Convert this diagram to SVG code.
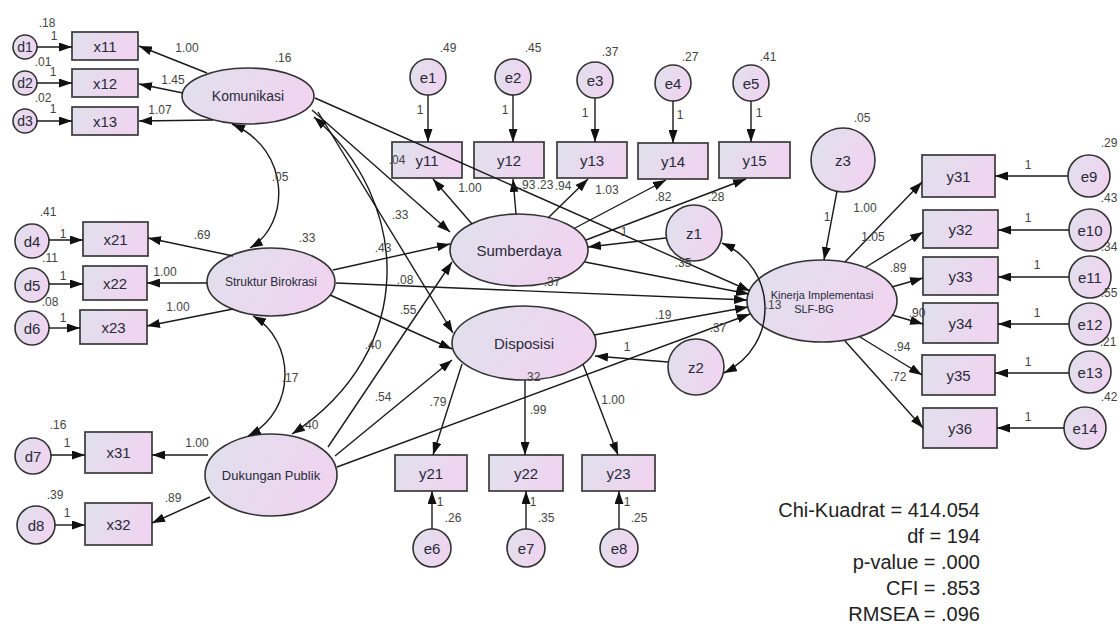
<svg xmlns="http://www.w3.org/2000/svg" width="1120" height="625" viewBox="0 0 1120 625">
  <defs>
    <linearGradient id="fillGrad" x1="0" y1="0" x2="1" y2="0.3">
      <stop offset="0" stop-color="#dfe1ec"/>
      <stop offset="1" stop-color="#f0d4f0"/>
    </linearGradient>
    <marker id="ah" markerUnits="userSpaceOnUse" markerWidth="13" markerHeight="9" refX="13" refY="4.5" orient="auto-start-reverse">
      <path d="M0,0 L13,4.5 L0,9 z" fill="#111"/>
    </marker>
    <style>
      .box { fill: url(#fillGrad); stroke: #3a3a3a; stroke-width: 1.7; }
      .lat { fill: url(#fillGrad); stroke: #333; stroke-width: 1.6; }
      .ln { fill: none; stroke: #1a1a1a; stroke-width: 1.4; marker-end: url(#ah); }
      .cov { fill: none; stroke: #1a1a1a; stroke-width: 1.4; marker-start: url(#ah); marker-end: url(#ah); }
      .nt { font-family: "Liberation Sans", Arial, sans-serif; font-size: 15px; fill: #2a2a3a; text-anchor: middle; dominant-baseline: central; }
      .lv { font-family: "Liberation Sans", Arial, sans-serif; font-size: 14px; fill: #2a2a3a; text-anchor: middle; dominant-baseline: central; }
      .lb { font-family: "Liberation Sans", Arial, sans-serif; font-size: 12px; fill: #444; text-anchor: middle; }
      .st { font-family: "Liberation Sans", Arial, sans-serif; font-size: 20px; fill: #222; text-anchor: end; }
    </style>
  </defs>
  <rect width="1120" height="625" fill="#ffffff"/>

  <!-- exogenous latent variables -->
  <g id="komunikasi"><ellipse class="lat" cx="248" cy="96" rx="66" ry="28"/><text class="lv" x="248" y="96">Komunikasi</text></g>
  <g id="struktur-birokrasi"><ellipse class="lat" cx="271" cy="282" rx="64" ry="34"/><text class="lv" x="271" y="282" style="font-size:12px">Struktur Birokrasi</text></g>
  <g id="dukungan-publik"><ellipse class="lat" cx="271" cy="475" rx="66" ry="41"/><text class="lv" x="271" y="475" style="font-size:13px">Dukungan Publik</text></g>

  <!-- endogenous latent variables -->
  <g id="sumberdaya"><ellipse class="lat" cx="519" cy="250" rx="69" ry="36"/><text class="lv" x="519" y="250" style="font-size:15px">Sumberdaya</text></g>
  <g id="disposisi"><ellipse class="lat" cx="524" cy="343" rx="72" ry="37"/><text class="lv" x="524" y="343" style="font-size:15px">Disposisi</text></g>
  <g id="kinerja"><ellipse class="lat" cx="822" cy="301" rx="75" ry="41"/><text class="lv" x="822" y="295" style="font-size:11px">Kinerja Implementasi</text><text class="lv" x="814" y="309" style="font-size:11px">SLF-BG</text></g>

  <!-- indicators of exogenous variables -->
  <g id="x11"><rect class="box" x="72" y="32" width="66" height="28"/><text class="nt" x="105" y="46">x11</text></g>
  <g id="x12"><rect class="box" x="72" y="69" width="66" height="28"/><text class="nt" x="105" y="83">x12</text></g>
  <g id="x13"><rect class="box" x="72" y="107" width="66" height="28"/><text class="nt" x="105" y="121">x13</text></g>
  <g id="x21"><rect class="box" x="83" y="222" width="65" height="34"/><text class="nt" x="115.5" y="239">x21</text></g>
  <g id="x22"><rect class="box" x="83" y="266" width="64" height="34"/><text class="nt" x="115" y="283">x22</text></g>
  <g id="x23"><rect class="box" x="80" y="310" width="67" height="34"/><text class="nt" x="113.5" y="327">x23</text></g>
  <g id="x31"><rect class="box" x="85" y="432" width="67" height="41"/><text class="nt" x="118.5" y="452.5">x31</text></g>
  <g id="x32"><rect class="box" x="85" y="503" width="67" height="42"/><text class="nt" x="118.5" y="524">x32</text></g>

  <!-- indicators of endogenous variables -->
  <g id="y11"><rect class="box" x="392" y="142" width="70" height="36"/><text class="nt" x="427" y="160">y11</text></g>
  <g id="y12"><rect class="box" x="474" y="142" width="70" height="36"/><text class="nt" x="509" y="160">y12</text></g>
  <g id="y13"><rect class="box" x="557" y="142" width="70" height="36"/><text class="nt" x="592" y="160">y13</text></g>
  <g id="y14"><rect class="box" x="638" y="143" width="70" height="36"/><text class="nt" x="673" y="161">y14</text></g>
  <g id="y15"><rect class="box" x="719" y="142" width="71" height="36"/><text class="nt" x="754.5" y="160">y15</text></g>
  <g id="y21"><rect class="box" x="395" y="455" width="72" height="36"/><text class="nt" x="431" y="473">y21</text></g>
  <g id="y22"><rect class="box" x="489" y="455" width="74" height="36"/><text class="nt" x="526" y="473">y22</text></g>
  <g id="y23"><rect class="box" x="582" y="455" width="73" height="36"/><text class="nt" x="618.5" y="473">y23</text></g>
  <g id="y31"><rect class="box" x="922" y="155" width="73" height="42"/><text class="nt" x="958.5" y="176">y31</text></g>
  <g id="y32"><rect class="box" x="923" y="210" width="75" height="38"/><text class="nt" x="960.5" y="229">y32</text></g>
  <g id="y33"><rect class="box" x="923" y="257" width="75" height="38"/><text class="nt" x="960.5" y="276">y33</text></g>
  <g id="y34"><rect class="box" x="923" y="303" width="75" height="40"/><text class="nt" x="960.5" y="323">y34</text></g>
  <g id="y35"><rect class="box" x="922" y="355" width="73" height="40"/><text class="nt" x="958.5" y="375">y35</text></g>
  <g id="y36"><rect class="box" x="923" y="408" width="74" height="40"/><text class="nt" x="960" y="428">y36</text></g>

  <!-- error terms -->
  <g id="d1"><circle class="lat" cx="25" cy="47" r="12"/><text class="nt" x="25" y="47" style="font-size:14px">d1</text></g>
  <g id="d2"><circle class="lat" cx="25" cy="83" r="12"/><text class="nt" x="25" y="83" style="font-size:14px">d2</text></g>
  <g id="d3"><circle class="lat" cx="25" cy="121" r="12"/><text class="nt" x="25" y="121" style="font-size:14px">d3</text></g>
  <g id="d4"><circle class="lat" cx="32" cy="241" r="17"/><text class="nt" x="32" y="241">d4</text></g>
  <g id="d5"><circle class="lat" cx="32" cy="285" r="17"/><text class="nt" x="32" y="285">d5</text></g>
  <g id="d6"><circle class="lat" cx="32" cy="328" r="17"/><text class="nt" x="32" y="328">d6</text></g>
  <g id="d7"><circle class="lat" cx="33" cy="456" r="18"/><text class="nt" x="33" y="456">d7</text></g>
  <g id="d8"><circle class="lat" cx="36" cy="525" r="19"/><text class="nt" x="36" y="525">d8</text></g>
  <g id="e1"><circle class="lat" cx="428" cy="77" r="18"/><text class="nt" x="428" y="77">e1</text></g>
  <g id="e2"><circle class="lat" cx="513" cy="77" r="18"/><text class="nt" x="513" y="77">e2</text></g>
  <g id="e3"><circle class="lat" cx="595" cy="80" r="18"/><text class="nt" x="595" y="80">e3</text></g>
  <g id="e4"><circle class="lat" cx="673" cy="83" r="18"/><text class="nt" x="673" y="83">e4</text></g>
  <g id="e5"><circle class="lat" cx="751" cy="83" r="18"/><text class="nt" x="751" y="83">e5</text></g>
  <g id="e6"><circle class="lat" cx="432" cy="548" r="19"/><text class="nt" x="432" y="548">e6</text></g>
  <g id="e7"><circle class="lat" cx="526" cy="548" r="19"/><text class="nt" x="526" y="548">e7</text></g>
  <g id="e8"><circle class="lat" cx="619" cy="548" r="19"/><text class="nt" x="619" y="548">e8</text></g>
  <g id="e9"><circle class="lat" cx="1089" cy="176" r="21"/><text class="nt" x="1089" y="176">e9</text></g>
  <g id="e10"><circle class="lat" cx="1090" cy="230" r="21"/><text class="nt" x="1090" y="230">e10</text></g>
  <g id="e11"><circle class="lat" cx="1090" cy="277" r="21"/><text class="nt" x="1090" y="277">e11</text></g>
  <g id="e12"><circle class="lat" cx="1090" cy="324" r="21"/><text class="nt" x="1090" y="324">e12</text></g>
  <g id="e13"><circle class="lat" cx="1090" cy="372" r="21"/><text class="nt" x="1090" y="372">e13</text></g>
  <g id="e14"><circle class="lat" cx="1085" cy="428" r="21"/><text class="nt" x="1085" y="428">e14</text></g>
  <g id="z1"><circle class="lat" cx="694" cy="233" r="28"/><text class="nt" x="694" y="233">z1</text></g>
  <g id="z2"><circle class="lat" cx="696" cy="367" r="28"/><text class="nt" x="696" y="367">z2</text></g>
  <g id="z3"><circle class="lat" cx="843" cy="160" r="32"/><text class="nt" x="843" y="160">z3</text></g>

  <!-- paths and covariances -->
  <g id="connectors">
    <line class="ln" x1="37" y1="47" x2="72" y2="47"/>
    <line class="ln" x1="37" y1="83" x2="72" y2="83"/>
    <line class="ln" x1="37" y1="121" x2="72" y2="121"/>
    <line class="ln" x1="49" y1="240" x2="83" y2="240"/>
    <line class="ln" x1="49" y1="284" x2="83" y2="284"/>
    <line class="ln" x1="49" y1="328" x2="80" y2="328"/>
    <line class="ln" x1="51" y1="455" x2="85" y2="455"/>
    <line class="ln" x1="55" y1="525" x2="85" y2="525"/>

    <line class="ln" x1="207" y1="73" x2="139" y2="46"/>
    <line class="ln" x1="183" y1="93" x2="139" y2="84"/>
    <line class="ln" x1="213" y1="120" x2="139" y2="121"/>
    <line class="ln" x1="233" y1="256" x2="148" y2="238"/>
    <line class="ln" x1="207" y1="283" x2="147" y2="283"/>
    <line class="ln" x1="233" y1="309" x2="147" y2="326"/>
    <line class="ln" x1="208" y1="455" x2="152" y2="455"/>
    <line class="ln" x1="210" y1="497" x2="152" y2="523"/>

    <line class="ln" x1="428" y1="95" x2="428" y2="142"/>
    <line class="ln" x1="513" y1="95" x2="513" y2="142"/>
    <line class="ln" x1="595" y1="98" x2="595" y2="142"/>
    <line class="ln" x1="673" y1="101" x2="673" y2="143"/>
    <line class="ln" x1="751" y1="101" x2="751" y2="142"/>

    <line class="ln" x1="472" y1="224" x2="433" y2="179"/>
    <line class="ln" x1="516" y1="214" x2="513" y2="179"/>
    <line class="ln" x1="548" y1="218" x2="588" y2="179"/>
    <line class="ln" x1="575" y1="228" x2="666" y2="180"/>
    <line class="ln" x1="586" y1="240" x2="746" y2="179"/>

    <line class="ln" x1="312" y1="110" x2="450" y2="232"/>
    <line class="ln" x1="318" y1="112" x2="453" y2="333"/>
    <line class="ln" x1="315" y1="98" x2="750" y2="291"/>
    <line class="ln" x1="333" y1="270" x2="450" y2="244"/>
    <line class="ln" x1="336" y1="283" x2="747" y2="300"/>
    <line class="ln" x1="330" y1="295" x2="452" y2="349"/>
    <line class="ln" x1="328" y1="447" x2="452" y2="262"/>
    <line class="ln" x1="335" y1="456" x2="452" y2="360"/>
    <line class="ln" x1="337" y1="467" x2="750" y2="314"/>
    <line class="ln" x1="585" y1="262" x2="749" y2="294"/>
    <line class="ln" x1="594" y1="335" x2="748" y2="307"/>
    <line class="ln" x1="666" y1="238" x2="588" y2="247"/>
    <line class="ln" x1="668" y1="362" x2="595" y2="356"/>
    <line class="ln" x1="837" y1="191" x2="824" y2="260"/>

    <line class="ln" x1="462" y1="364" x2="433" y2="455"/>
    <line class="ln" x1="525" y1="380" x2="525" y2="455"/>
    <line class="ln" x1="583" y1="364" x2="618" y2="455"/>
    <line class="ln" x1="432" y1="529" x2="432" y2="491"/>
    <line class="ln" x1="526" y1="529" x2="526" y2="491"/>
    <line class="ln" x1="619" y1="529" x2="619" y2="491"/>

    <line class="ln" x1="845" y1="262" x2="922" y2="182"/>
    <line class="ln" x1="866" y1="267" x2="923" y2="232"/>
    <line class="ln" x1="892" y1="287" x2="923" y2="278"/>
    <line class="ln" x1="892" y1="315" x2="923" y2="324"/>
    <line class="ln" x1="860" y1="337" x2="922" y2="375"/>
    <line class="ln" x1="845" y1="341" x2="923" y2="428"/>

    <line class="ln" x1="1068" y1="176" x2="995" y2="176"/>
    <line class="ln" x1="1069" y1="230" x2="998" y2="230"/>
    <line class="ln" x1="1069" y1="277" x2="998" y2="277"/>
    <line class="ln" x1="1069" y1="324" x2="998" y2="324"/>
    <line class="ln" x1="1069" y1="373" x2="995" y2="373"/>
    <line class="ln" x1="1064" y1="428" x2="997" y2="428"/>

    <path class="cov" d="M232,124 C292,150 290,225 250,248"/>
    <path class="cov" d="M253,316 C295,340 298,410 248,436"/>
    <path class="cov" d="M314,117 C410,200 420,350 292,434"/>
    <path class="cov" d="M722,243 C778,268 780,345 724,373"/>
  </g>

  <!-- estimates -->
  <g id="estimates">
    <text class="lb" x="47" y="27">.18</text>
    <text class="lb" x="54" y="40">1</text>
    <text class="lb" x="43" y="66">.01</text>
    <text class="lb" x="53" y="76">1</text>
    <text class="lb" x="43" y="102">.02</text>
    <text class="lb" x="53" y="113">1</text>
    <text class="lb" x="187" y="52">1.00</text>
    <text class="lb" x="283" y="62">.16</text>
    <text class="lb" x="173" y="84">1.45</text>
    <text class="lb" x="160" y="114">1.07</text>
    <text class="lb" x="280" y="181">.05</text>
    <text class="lb" x="48" y="216">.41</text>
    <text class="lb" x="63" y="238">1</text>
    <text class="lb" x="50" y="262">.11</text>
    <text class="lb" x="63" y="280">1</text>
    <text class="lb" x="50" y="306">.08</text>
    <text class="lb" x="63" y="322">1</text>
    <text class="lb" x="202" y="239">.69</text>
    <text class="lb" x="307" y="242">.33</text>
    <text class="lb" x="165" y="276">1.00</text>
    <text class="lb" x="178" y="311">1.00</text>
    <text class="lb" x="290" y="382">.17</text>
    <text class="lb" x="58" y="429">.16</text>
    <text class="lb" x="67" y="447">1</text>
    <text class="lb" x="197" y="447">1.00</text>
    <text class="lb" x="55" y="499">.39</text>
    <text class="lb" x="67" y="517">1</text>
    <text class="lb" x="173" y="502">.89</text>
    <text class="lb" x="310" y="429">.40</text>

    <text class="lb" x="448" y="52">.49</text>
    <text class="lb" x="533" y="52">.45</text>
    <text class="lb" x="610" y="56">.37</text>
    <text class="lb" x="690" y="61">.27</text>
    <text class="lb" x="768" y="61">.41</text>
    <text class="lb" x="420" y="114">1</text>
    <text class="lb" x="505" y="114">1</text>
    <text class="lb" x="585" y="117">1</text>
    <text class="lb" x="680" y="119">1</text>
    <text class="lb" x="759" y="117">1</text>
    <text class="lb" x="397" y="164">.04</text>
    <text class="lb" x="470" y="192">1.00</text>
    <text class="lb" x="527" y="189">.93</text>
    <text class="lb" x="545" y="189">.23</text>
    <text class="lb" x="563" y="190">.94</text>
    <text class="lb" x="607" y="194">1.03</text>
    <text class="lb" x="663" y="201">.82</text>
    <text class="lb" x="716" y="201">.28</text>
    <text class="lb" x="400" y="219">.33</text>
    <text class="lb" x="383" y="252">.43</text>
    <text class="lb" x="624" y="236">1</text>
    <text class="lb" x="683" y="267">.35</text>
    <text class="lb" x="405" y="284">.08</text>
    <text class="lb" x="552" y="286">.37</text>
    <text class="lb" x="408" y="314">.55</text>
    <text class="lb" x="663" y="319">.19</text>
    <text class="lb" x="718" y="332">.37</text>
    <text class="lb" x="627" y="351">1</text>
    <text class="lb" x="773" y="309">.13</text>
    <text class="lb" x="532" y="381">.32</text>
    <text class="lb" x="373" y="349">.40</text>
    <text class="lb" x="383" y="401">.54</text>
    <text class="lb" x="438" y="406">.79</text>
    <text class="lb" x="538" y="414">.99</text>
    <text class="lb" x="613" y="404">1.00</text>
    <text class="lb" x="440" y="506">1</text>
    <text class="lb" x="453" y="522">.26</text>
    <text class="lb" x="533" y="506">1</text>
    <text class="lb" x="546" y="522">.35</text>
    <text class="lb" x="627" y="506">1</text>
    <text class="lb" x="639" y="522">.25</text>

    <text class="lb" x="862" y="122">.05</text>
    <text class="lb" x="827" y="221">1</text>
    <text class="lb" x="865" y="212">1.00</text>
    <text class="lb" x="873" y="241">1.05</text>
    <text class="lb" x="898" y="272">.89</text>
    <text class="lb" x="917" y="317">.90</text>
    <text class="lb" x="902" y="351">.94</text>
    <text class="lb" x="898" y="381">.72</text>
    <text class="lb" x="1109" y="147">.29</text>
    <text class="lb" x="1109" y="202">.43</text>
    <text class="lb" x="1109" y="251">.34</text>
    <text class="lb" x="1109" y="297">.55</text>
    <text class="lb" x="1108" y="346">.21</text>
    <text class="lb" x="1109" y="401">.42</text>
    <text class="lb" x="1028" y="169">1</text>
    <text class="lb" x="1028" y="222">1</text>
    <text class="lb" x="1037" y="269">1</text>
    <text class="lb" x="1037" y="317">1</text>
    <text class="lb" x="1028" y="366">1</text>
    <text class="lb" x="1028" y="421">1</text>
  </g>

  <!-- fit statistics -->
  <g id="fit-statistics">
    <text class="st" x="980" y="517">Chi-Kuadrat = 414.054</text>
    <text class="st" x="980" y="543">df = 194</text>
    <text class="st" x="980" y="569">p-value = .000</text>
    <text class="st" x="980" y="595">CFI = .853</text>
    <text class="st" x="980" y="621">RMSEA = .096</text>
  </g>
</svg>
